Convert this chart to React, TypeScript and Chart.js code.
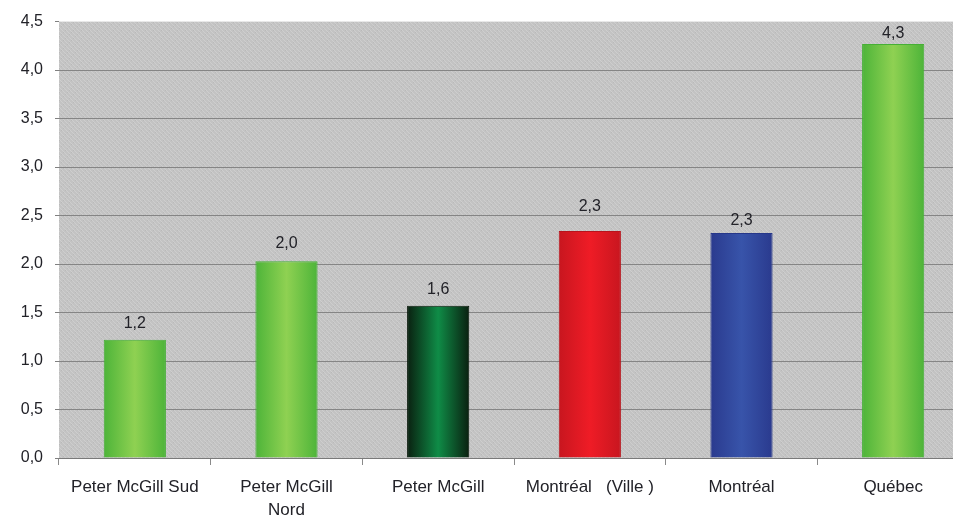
import React, { useEffect, useRef } from "react";
import { Chart, registerables } from "chart.js";

Chart.register(...registerables);

const categories: (string | string[])[] = [
  "Peter McGill Sud",
  ["Peter McGill", "Nord"],
  "Peter McGill",
  "Montréal   (Ville )",
  "Montréal",
  "Québec",
];
const values: number[] = [1.22, 2.03, 1.57, 2.34, 2.32, 4.27];
const yTicks: number[] = [0, 0.5, 1, 1.5, 2, 2.5, 3, 3.5, 4, 4.5];

// styles (not data)
const barGradients: string[][] = [
  ["#4db439", "#8fd152", "#4db439"],
  ["#4db439", "#8fd152", "#4db439"],
  ["#0a2010", "#0f8c47", "#0a2010"],
  ["#c8161f", "#ef1c26", "#c8161f"],
  ["#2a3a8e", "#3854aa", "#2a3a8e"],
  ["#4db439", "#8fd152", "#4db439"],
];
const barBorders: string[] = ["#46b035", "#46b035", "#08180a", "#b8141c", "#26378a", "#46b035"];
const labelOffsets: number[] = [16, 18, 16, 24, 12, 10];
const BAR_PCT = 0.41;
const FONT = "'Liberation Sans', Arial, sans-serif";
const TEXT = "#222228";

function makePattern(): CanvasPattern | string {
  const c = document.createElement("canvas");
  c.width = 8;
  c.height = 8;
  const g = c.getContext("2d");
  if (!g) return "#c2c2c2";
  g.fillStyle = "#c3c3c3";
  g.fillRect(0, 0, 8, 8);
  g.fillStyle = "#cecece";
  for (let i = 0; i < 8; i++) {
    g.fillRect(i, i, 1, 1);
    g.fillRect((i + 4) % 8, i, 1, 1);
  }
  g.fillStyle = "#b9b9b9";
  for (let i = 0; i < 8; i += 2) {
    g.fillRect(7 - i, i, 1, 1);
  }
  const p = g.createPattern(c, "repeat");
  return p || "#c2c2c2";
}

export default function App() {
  const ref = useRef<HTMLCanvasElement | null>(null);

  useEffect(() => {
    if (!ref.current) return;
    const pattern = makePattern();

    const bgPlugin = {
      id: "plotBg",
      beforeDraw(chart: any) {
        const { ctx, chartArea } = chart;
        if (!chartArea) return;
        ctx.save();
        ctx.fillStyle = pattern;
        ctx.fillRect(chartArea.left, chartArea.top, chartArea.right - chartArea.left, chartArea.bottom - chartArea.top);
        ctx.restore();
      },
    };

    const labelPlugin = {
      id: "valueLabels",
      afterDatasetsDraw(chart: any) {
        const { ctx } = chart;
        const meta = chart.getDatasetMeta(0);
        ctx.save();
        ctx.font = `16px ${FONT}`;
        ctx.fillStyle = TEXT;
        ctx.textAlign = "center";
        ctx.textBaseline = "middle";
        meta.data.forEach((bar: any, i: number) => {
          const v = values[i];
          const txt = v.toFixed(1).replace(".", ",");
          ctx.fillText(txt, bar.x, bar.y - labelOffsets[i]);
        });
        ctx.restore();
      },
    };

    const chart = new Chart(ref.current, {
      type: "bar",
      data: {
        labels: categories,
        datasets: [
          {
            data: values,
            backgroundColor: (c: any) => {
              const ch = c.chart;
              const xs = ch.scales?.x;
              const stops = barGradients[c.dataIndex] || barGradients[0];
              if (!xs || !ch.chartArea) return stops[1];
              const cx = xs.getPixelForValue(c.dataIndex);
              const w = (xs.width / categories.length) * BAR_PCT;
              const g = ch.ctx.createLinearGradient(cx - w / 2, 0, cx + w / 2, 0);
              g.addColorStop(0, stops[0]);
              g.addColorStop(0.5, stops[1]);
              g.addColorStop(1, stops[2]);
              return g;
            },
            borderColor: barBorders,
            borderWidth: 1,
            categoryPercentage: 1,
            barPercentage: BAR_PCT,
          },
        ],
      },
      options: {
        responsive: false,
        animation: false,
        events: [],
        layout: { padding: { top: 20, right: 6, left: 0, bottom: 0 } },
        plugins: {
          legend: { display: false },
          tooltip: { enabled: false },
        },
        scales: {
          x: {
            afterFit: (s: any) => {
              s.height = 60;
            },
            grid: {
              drawOnChartArea: false,
              drawTicks: true,
              tickLength: 7,
              color: "#8a8a8a",
              offset: true,
            },
            border: { display: true, color: "#7a7a7a", width: 1 },
            ticks: {
              color: TEXT,
              font: { family: FONT, size: 17, lineHeight: 1.35 },
              padding: 11,
              maxRotation: 0,
              autoSkip: false,
            },
          },
          y: {
            min: 0,
            max: 4.5,
            afterFit: (s: any) => {
              s.width = 59;
            },
            afterBuildTicks: (s: any) => {
              s.ticks = yTicks.map((v) => ({ value: v }));
            },
            grid: {
              color: (c: any) => (c.tick && c.tick.value === 4.5 ? "rgba(0,0,0,0)" : "#858585"),
              tickColor: "#808080",
              tickLength: 4,
              lineWidth: 1,
            },
            border: { display: false },
            ticks: {
              color: TEXT,
              font: { family: FONT, size: 16 },
              padding: 12,
              callback: (v: any) => Number(v).toFixed(1).replace(".", ","),
            },
          },
        },
      },
      plugins: [bgPlugin, labelPlugin],
    });

    return () => chart.destroy();
  }, []);

  return (
    <div
      style={{
        position: "fixed",
        left: 0,
        top: 0,
        width: 953,
        height: 518,
        overflow: "hidden",
        background: "#ffffff",
      }}
    >
      <canvas ref={ref} width={975} height={518} style={{ display: "block" }} />
    </div>
  );
}
